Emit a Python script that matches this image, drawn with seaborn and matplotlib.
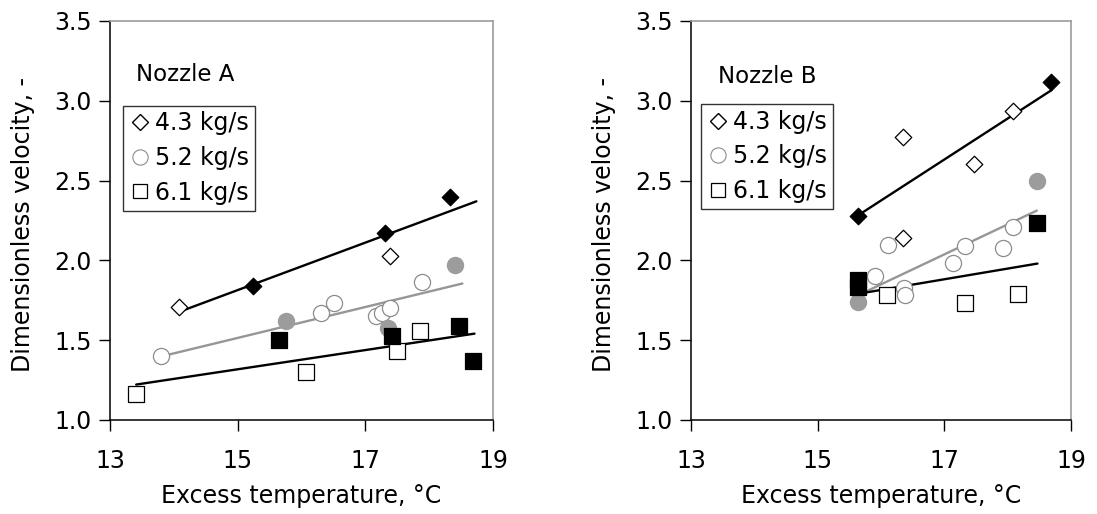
import matplotlib
matplotlib.use("Agg")
from matplotlib import pyplot as plt
from matplotlib.lines import Line2D
import pandas as pd
import seaborn as sns

# ---- Nozzle A ----
a43_open_x = [14.08, 17.39]
a43_open_y = [1.71, 2.03]
a43_fill_x = [15.24, 17.31, 18.32]
a43_fill_y = [1.84, 2.17, 2.40]
a52_open_x = [13.80, 16.31, 16.51, 17.17, 17.26, 17.39, 17.89]
a52_open_y = [1.40, 1.67, 1.73, 1.65, 1.67, 1.70, 1.865]
a52_fill_x = [15.75, 17.36, 18.41]
a52_fill_y = [1.62, 1.575, 1.97]
a61_open_x = [13.41, 16.07, 17.49, 17.86]
a61_open_y = [1.165, 1.30, 1.435, 1.56]
a61_fill_x = [15.65, 17.42, 18.47, 18.68]
a61_fill_y = [1.50, 1.525, 1.59, 1.37]
a43_fit_x = [14.08, 18.74]
a43_fit_y = [1.677, 2.37]
a52_fit_x = [13.80, 18.52]
a52_fit_y = [1.398, 1.855]
a61_fit_x = [13.41, 18.71]
a61_fit_y = [1.222, 1.541]

# ---- Nozzle B ----
b43_open_x = [16.35, 16.35, 17.47, 18.08]
b43_open_y = [2.77, 2.14, 2.605, 2.935]
b43_fill_x = [15.63, 18.69]
b43_fill_y = [2.275, 3.115]
b52_open_x = [15.91, 16.11, 16.37, 16.38, 17.13, 17.33, 17.92, 18.09]
b52_open_y = [1.905, 2.095, 1.83, 1.78, 1.985, 2.09, 2.075, 2.21]
b52_fill_x = [15.63, 18.46]
b52_fill_y = [1.74, 2.495]
b61_open_x = [16.09, 17.33, 18.16]
b61_open_y = [1.78, 1.735, 1.79]
b61_fill_x = [15.63, 15.63, 18.46]
b61_fill_y = [1.875, 1.835, 2.235]
b43_fit_x = [15.63, 18.69]
b43_fit_y = [2.28, 3.066]
b52_fit_x = [15.63, 18.46]
b52_fit_y = [1.78, 2.312]
b61_fit_x = [15.63, 18.47]
b61_fit_y = [1.79, 1.98]

labels = ["4.3 kg/s", "5.2 kg/s", "6.1 kg/s"]
xticks = [13, 15, 17, 19]
yticks = [1.0, 1.5, 2.0, 2.5, 3.0, 3.5]

GRAY = "#9c9c9c"
GRAY_EDGE = "#8c8c8c"
GRAY_LINE = "#969696"
FS = 17

sns.set_style("ticks")
plt.rcParams["font.family"] = ["DejaVu Sans"]
plt.rcParams["text.color"] = "black"
plt.rcParams["axes.labelcolor"] = "black"
plt.rcParams["xtick.color"] = "black"
plt.rcParams["ytick.color"] = "black"

f = plt.figure(figsize=(10.97, 5.14), dpi=100)
axes = [
    f.add_axes([0.1003, 0.1829, 0.3491, 0.7763]),
    f.add_axes([0.6299, 0.1829, 0.3464, 0.7763]),
]

panels = [
    dict(
        name="Nozzle A",
        pts=[
            (a43_open_x, a43_open_y, "D", "white", "black", 71),
            (a43_fill_x, a43_fill_y, "D", "black", "black", 71),
            (a52_open_x, a52_open_y, "o", "white", GRAY_EDGE, 135),
            (a52_fill_x, a52_fill_y, "o", GRAY, GRAY, 135),
            (a61_open_x, a61_open_y, "s", "white", "black", 135),
            (a61_fill_x, a61_fill_y, "s", "black", "black", 135),
        ],
        fits=[
            (a43_fit_x, a43_fit_y, "black"),
            (a52_fit_x, a52_fit_y, GRAY_LINE),
            (a61_fit_x, a61_fit_y, "black"),
        ],
        name_pos=(0.069, 0.867),
        leg_pos=(0.034, 0.788),
        ylab_x=-0.228,
    ),
    dict(
        name="Nozzle B",
        pts=[
            (b43_open_x, b43_open_y, "D", "white", "black", 71),
            (b43_fill_x, b43_fill_y, "D", "black", "black", 71),
            (b52_open_x, b52_open_y, "o", "white", GRAY_EDGE, 135),
            (b52_fill_x, b52_fill_y, "o", GRAY, GRAY, 135),
            (b61_open_x, b61_open_y, "s", "white", "black", 135),
            (b61_fill_x, b61_fill_y, "s", "black", "black", 135),
        ],
        fits=[
            (b43_fit_x, b43_fit_y, "black"),
            (b52_fit_x, b52_fit_y, GRAY_LINE),
            (b61_fit_x, b61_fit_y, "black"),
        ],
        name_pos=(0.072, 0.862),
        leg_pos=(0.027, 0.792),
        ylab_x=-0.229,
    ),
]

for ax, p in zip(axes, panels):
    for fx, fy, c in p["fits"]:
        sns.lineplot(
            data=pd.DataFrame({"x": fx, "y": fy}),
            x="x", y="y",
            color=c, linewidth=1.7, estimator=None, ax=ax, zorder=2,
        )
    for x, y, m, fc, ec, s in p["pts"]:
        sns.scatterplot(
            data=pd.DataFrame({"x": x, "y": y}),
            x="x", y="y",
            marker=m, s=s, facecolor=fc, edgecolor=ec,
            linewidth=0.9, ax=ax, zorder=3,
        )

    ax.set_xlim(13, 19)
    ax.set_ylim(1.0, 3.5)
    ax.set_xticks(xticks)
    ax.set_yticks(yticks)
    ax.set_yticklabels(["{:.1f}".format(v) for v in yticks])
    ax.tick_params(axis="both", labelsize=FS, length=8, width=1,
                   direction="out", color="black", labelcolor="black")
    ax.tick_params(axis="x", pad=13)
    ax.tick_params(axis="y", pad=5)
    for side in ["left", "bottom"]:
        ax.spines[side].set_color("black")
        ax.spines[side].set_linewidth(1.1)
    for side in ["top", "right"]:
        ax.spines[side].set_visible(True)
        ax.spines[side].set_color(GRAY)
        ax.spines[side].set_linewidth(1.2)

    ax.set_xlabel("Excess temperature, °C", fontsize=FS, color="black")
    ax.set_ylabel("Dimensionless velocity, -", fontsize=FS, color="black")
    ax.xaxis.set_label_coords(0.5, -0.208)
    ax.xaxis.label.set_va("baseline")
    ax.yaxis.set_label_coords(p["ylab_x"], 0.49)
    ax.yaxis.label.set_va("center")

    ax.text(p["name_pos"][0], p["name_pos"][1], p["name"],
            transform=ax.transAxes, fontsize=16.5, ha="left", va="center",
            color="black")

    handles = [
        Line2D([], [], linestyle="none", marker="D", markersize=7.8,
               markerfacecolor="white", markeredgecolor="black",
               markeredgewidth=1),
        Line2D([], [], linestyle="none", marker="o", markersize=11,
               markerfacecolor="white", markeredgecolor=GRAY_EDGE,
               markeredgewidth=0.8),
        Line2D([], [], linestyle="none", marker="s", markersize=10.5,
               markerfacecolor="white", markeredgecolor="black",
               markeredgewidth=0.9),
    ]
    leg = ax.legend(
        handles, labels,
        loc="upper left", bbox_to_anchor=p["leg_pos"],
        fontsize=FS, frameon=True, fancybox=False,
        handlelength=0.9, handletextpad=0.2, labelspacing=0.45,
        borderpad=0.25, borderaxespad=0,
    )
    for t in leg.get_texts():
        t.set_color("black")
    leg.get_frame().set_edgecolor("black")
    leg.get_frame().set_linewidth(1)

f.savefig("out.png", dpi=100)
